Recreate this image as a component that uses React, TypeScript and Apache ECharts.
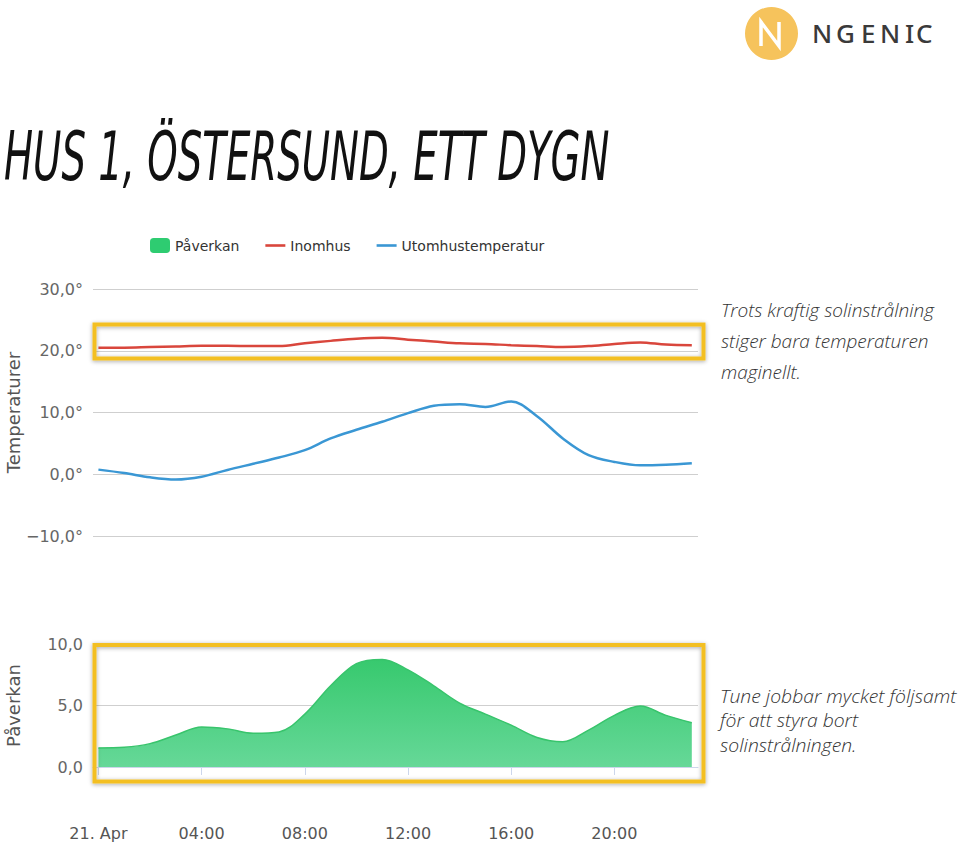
import React, { useEffect, useRef } from "react";
import * as echarts from "echarts";

const hours = [0, 1, 2, 3, 4, 5, 6, 7, 8, 9, 10, 11, 12, 13, 14, 15, 16, 17, 18, 19, 20, 21, 22, 23];
const inomhus = [20.5, 20.5, 20.6, 20.7, 20.8, 20.8, 20.75, 20.75, 21.2, 21.6, 21.95, 22.1, 21.8, 21.5, 21.2, 21.1, 20.9, 20.75, 20.6, 20.75, 21.1, 21.35, 21.0, 20.9];
const utomhus = [0.75, 0.2, -0.5, -0.85, -0.4, 0.7, 1.7, 2.7, 3.9, 5.8, 7.2, 8.5, 9.9, 11.1, 11.35, 10.9, 11.8, 9.4, 5.8, 3.1, 2.0, 1.45, 1.55, 1.8];
const paverkan = [1.55, 1.6, 1.9, 2.6, 3.25, 3.1, 2.75, 2.85, 4.3, 6.6, 8.4, 8.75, 7.9, 6.6, 5.2, 4.3, 3.4, 2.4, 2.05, 3.0, 4.2, 4.95, 4.2, 3.6];
const xTickValues = [0, 4, 8, 12, 16, 20];
const xTickLabels = ["21. Apr", "04:00", "08:00", "12:00", "16:00", "20:00"];
const seriesNames = ["Påverkan", "Inomhus", "Utomhustemperatur"];
const title = "HUS 1, ÖSTERSUND, ETT DYGN";
const note1 = ["Trots kraftig solinstrålning", "stiger bara temperaturen", "maginellt."];
const note2 = ["Tune jobbar mycket följsamt", "för att styra bort", "solinstrålningen."];
const logoLetters = ["N", "G", "E", "N", "I", "C"];

const pair = (ys: number[]) => hours.map((h, i) => [h, ys[i]]);
const fmt = (v: number, deg: boolean) => {
  const s = Math.abs(v).toFixed(1).replace(".", ",");
  return (v < 0 ? "\u2212" : "") + s + (deg ? "°" : "");
};

export default function App() {
  const ref = useRef<HTMLDivElement>(null);
  useEffect(() => {
    if (!ref.current) return;
    const chart = echarts.init(ref.current, null, { renderer: "svg" });
    const axisFont = "DejaVu Sans";
    const letterX = [812, 836, 861, 880, 905, 916];
    const option: any = {
      animation: false,
      backgroundColor: "#ffffff",
      legend: {
        top: 238,
        left: 150,
        padding: 0,
        itemWidth: 20,
        itemHeight: 15,
        itemGap: 26,
        textStyle: { fontFamily: axisFont, fontSize: 14, color: "#333333" },
        data: [
          { name: seriesNames[0], icon: "roundRect" },
          { name: seriesNames[1], icon: "path://M0,0H20V2.6H0Z" },
          { name: seriesNames[2], icon: "path://M0,0H20V2.6H0Z" },
        ],
      },
      grid: [
        { left: 93, right: 262, top: 289, height: 247, outerBoundsMode: "none", containLabel: false },
        { left: 93, right: 262, top: 644, height: 123, outerBoundsMode: "none", containLabel: false },
      ],
      xAxis: [
        {
          gridIndex: 0,
          type: "value",
          min: -0.21,
          max: 23.24,
          show: false,
        },
        {
          gridIndex: 1,
          type: "value",
          min: -0.21,
          max: 23.24,
          offset: 55,
          axisLine: { show: true, lineStyle: { color: "#ccd6eb", width: 1 } },
          axisTick: { show: true, customValues: xTickValues, length: 8, lineStyle: { color: "#ccd6eb" } },
          splitLine: { show: false },
          axisLabel: {
            customValues: xTickValues,
            formatter: (v: number) => xTickLabels[xTickValues.indexOf(Math.round(v))] ?? "",
            fontFamily: axisFont,
            fontSize: 16,
            color: "#555555",
            margin: 3,
          },
        },
      ],
      yAxis: [
        {
          gridIndex: 0,
          type: "value",
          min: -10,
          max: 30,
          interval: 10,
          name: "Temperaturer",
          nameLocation: "middle",
          nameGap: 71,
          nameMoveOverlap: false,
          nameTextStyle: { fontFamily: axisFont, fontSize: 18, color: "#555555" },
          axisLine: { show: false },
          axisTick: { show: false },
          splitLine: { lineStyle: { color: "#cfcfcf", width: 1 } },
          axisLabel: { formatter: (v: number) => fmt(v, true), fontFamily: axisFont, fontSize: 16, color: "#666666", margin: 10 },
        },
        {
          gridIndex: 1,
          type: "value",
          min: 0,
          max: 10,
          interval: 5,
          name: "Påverkan",
          nameLocation: "middle",
          nameGap: 71,
          nameMoveOverlap: false,
          nameTextStyle: { fontFamily: axisFont, fontSize: 18, color: "#555555" },
          axisLine: { show: false },
          axisTick: { show: false },
          splitLine: { lineStyle: { color: "#cfcfcf", width: 1 } },
          axisLabel: { formatter: (v: number) => fmt(v, false), fontFamily: axisFont, fontSize: 16, color: "#666666", margin: 10 },
        },
      ],
      series: [
        {
          name: seriesNames[0],
          type: "line",
          xAxisIndex: 1,
          yAxisIndex: 1,
          data: pair(paverkan),
          smooth: 0.35,
          showSymbol: false,
          itemStyle: { color: "#2ecc71" },
          lineStyle: { color: "#38c46c", width: 1.5 },
          areaStyle: {
            color: new echarts.graphic.LinearGradient(0, 0, 0, 1, [
              { offset: 0, color: "#37c96e" },
              { offset: 1, color: "#66d898" },
            ]),
            opacity: 1,
          },
        },
        {
          name: seriesNames[1],
          type: "line",
          xAxisIndex: 0,
          yAxisIndex: 0,
          data: pair(inomhus),
          smooth: 0.35,
          showSymbol: false,
          itemStyle: { color: "#d9463c" },
          lineStyle: { color: "#d9463c", width: 2.5 },
        },
        {
          name: seriesNames[2],
          type: "line",
          xAxisIndex: 0,
          yAxisIndex: 0,
          data: pair(utomhus),
          smooth: 0.35,
          showSymbol: false,
          itemStyle: { color: "#3a97d4" },
          lineStyle: { color: "#3a97d4", width: 2.5 },
        },
      ],
      graphic: [
        {
          type: "text",
          x: 4,
          y: 156,
          scaleX: 0.632,
          style: {
            text: title,
            font: "italic 400 68px 'Liberation Sans Narrow', 'DejaVu Sans Condensed', sans-serif",
            fill: "#111111",
            textAlign: "left",
            textVerticalAlign: "middle",
          },
        },
        { type: "circle", shape: { cx: 771.5, cy: 33.5, r: 26.5 }, style: { fill: "#f6c35c" } },
        {
          type: "polyline",
          shape: { points: [[761, 46], [761, 22], [779, 46], [779, 22]] },
          style: { stroke: "#ffffff", lineWidth: 3.5, fill: "none" },
        },
        ...logoLetters.map((l, i) => ({
          type: "text",
          x: letterX[i],
          y: 33,
          style: {
            text: l,
            font: "500 26px 'Noto Sans', sans-serif",
            fill: "#3a3a3a",
            textAlign: "left",
            textVerticalAlign: "middle",
          },
        })),
        {
          type: "text",
          x: 721,
          y: 341,
          style: {
            text: note1.join("\n"),
            font: "italic 300 19px 'Open Sans', sans-serif",
            lineHeight: 31,
            fill: "#333333",
            textAlign: "left",
            textVerticalAlign: "middle",
          },
        },
        {
          type: "text",
          x: 720,
          y: 720,
          scaleX: 1.075,
          style: {
            text: note2.join("\n"),
            font: "italic 300 18px 'Open Sans', sans-serif",
            lineHeight: 24.6,
            fill: "#333333",
            textAlign: "left",
            textVerticalAlign: "middle",
          },
        },
        {
          type: "rect",
          z: 100,
          shape: { x: 94.5, y: 324.5, width: 609, height: 34 },
          style: { fill: "none", stroke: "#f3bf24", lineWidth: 4, shadowBlur: 4, shadowColor: "rgba(0,0,0,0.35)", shadowOffsetY: 1 },
        },
        {
          type: "rect",
          z: 100,
          shape: { x: 94.5, y: 645, width: 609, height: 136.5 },
          style: { fill: "none", stroke: "#f3bf24", lineWidth: 4, shadowBlur: 4, shadowColor: "rgba(0,0,0,0.35)", shadowOffsetY: 1 },
        },
      ],
    };
    chart.setOption(option);
    return () => chart.dispose();
  }, []);
  return (
    <div
      ref={ref}
      style={{ position: "absolute", left: 0, top: 0, width: 960, height: 842, background: "#fff" }}
    />
  );
}
